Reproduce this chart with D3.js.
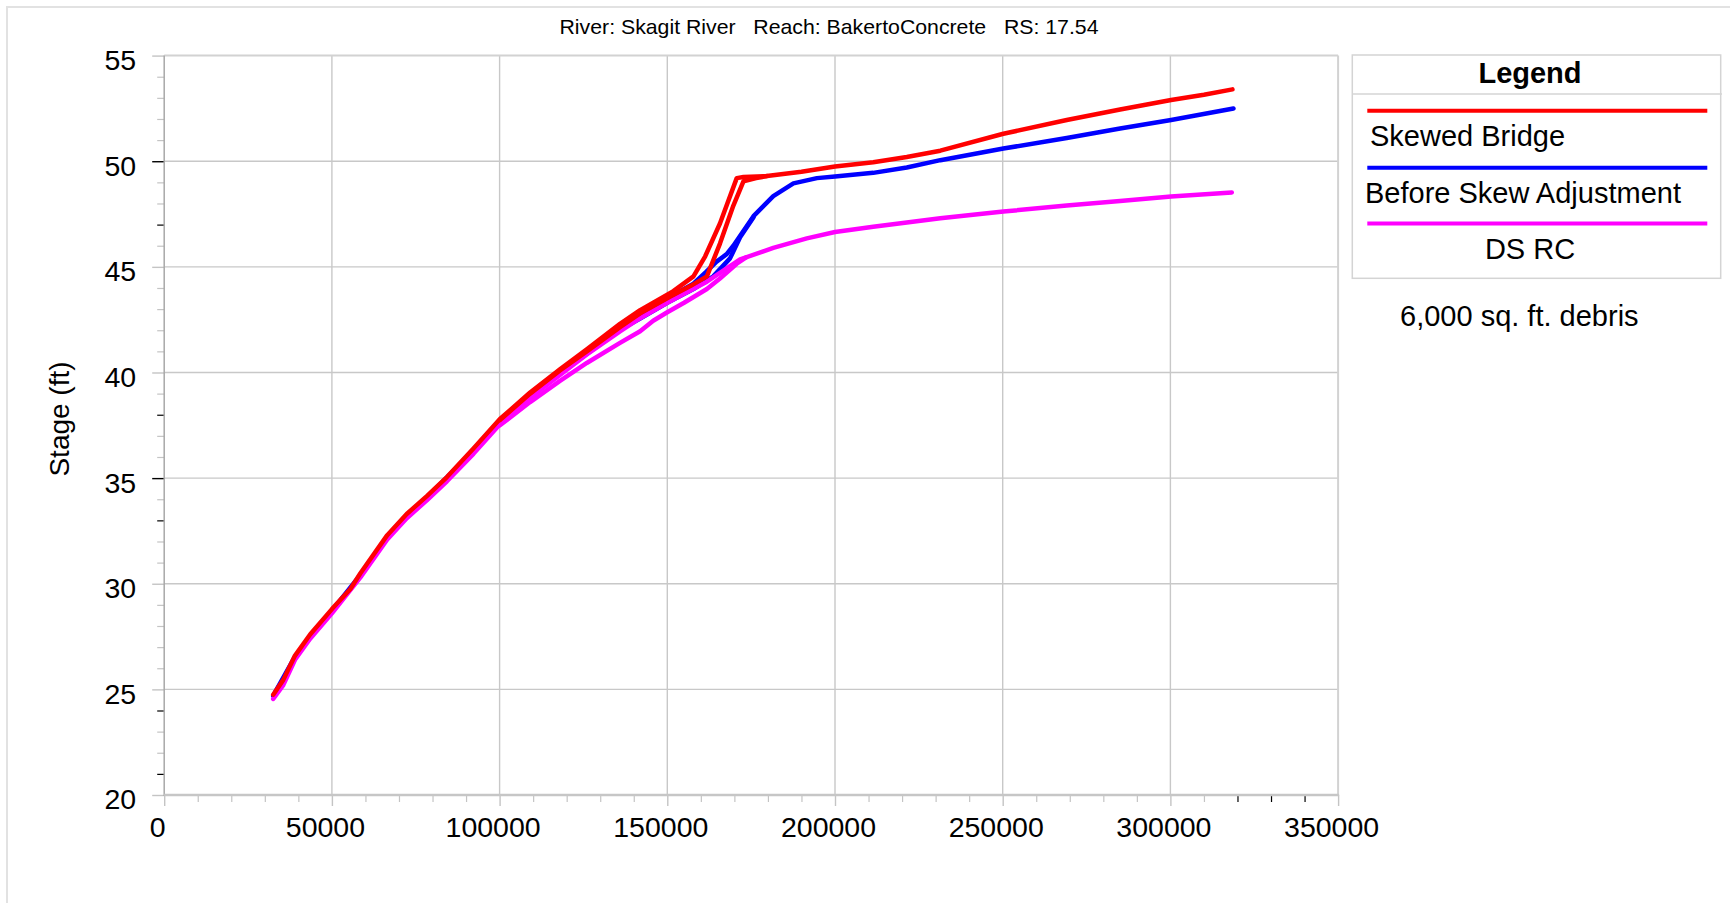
<!DOCTYPE html>
<html><head><meta charset="utf-8">
<script src="https://cdn.jsdelivr.net/npm/d3@7"></script>
<style>
body{margin:0;background:#fff;}
svg{display:block;font-family:Arial,"Liberation Sans",Helvetica,sans-serif;}
</style></head><body>
<svg id="chart" width="1730" height="903"></svg>
<script>
// ---------- DATA ----------
const titleText = "River: Skagit River   Reach: BakertoConcrete   RS: 17.54";
const yAxisLabel = "Stage (ft)";
const xTicks = [0, 50000, 100000, 150000, 200000, 250000, 300000, 350000];
const yTicks = [20, 25, 30, 35, 40, 45, 50, 55];
const seriesNames = ["Skewed Bridge", "Before Skew Adjustment", "DS RC"];
const seriesColors = ["#ff0000", "#0000ff", "#ff00ff"];
const legendTitle = "Legend";
const noteText = "6,000 sq. ft. debris";

// Skewed Bridge (two limbs of the loop) [flow cfs, stage ft]
const skewedBridgeA = [[32500,24.75],[35500,25.45],[39000,26.6],[43500,27.6],[50000,28.8],[55500,29.75],[58500,30.5],[66500,32.3],[72300,33.3],[78300,34.15],[84300,35.05],[92200,36.4],[100100,37.8],[109100,39.05],[118000,40.15],[126000,41.1],[135900,42.3],[141900,42.95],[145800,43.3],[151800,43.85],[157800,44.55],[161300,45.5],[165700,47.05],[170700,49.2],[172700,49.25],[179700,49.3],[190000,49.5],[200000,49.75],[211400,49.95],[221400,50.2],[231400,50.5],[250200,51.3],[269100,51.95],[285000,52.45],[300200,52.9],[310000,53.15],[318500,53.4]];
const skewedBridgeB = [[100100,37.75],[109100,39.0],[118000,40.1],[126000,41.0],[135900,42.15],[141900,42.8],[150900,43.6],[157000,44.1],[161800,44.55],[165700,46.1],[169700,47.9],[172700,49.05],[176500,49.2],[179700,49.3]];
// Before Skew Adjustment
const beforeSkewA = [[32500,24.7],[39000,26.55],[50000,28.72],[58500,30.42],[66500,32.22],[78300,34.08],[92200,36.3],[100100,37.68],[109100,38.92],[118000,40.02],[126000,40.97],[135900,42.12],[141900,42.68],[150000,43.5],[157800,44.2],[161500,44.75],[164700,45.25],[167700,45.6],[169700,46.0],[172700,46.7],[175700,47.4],[181600,48.35],[187600,48.95],[194600,49.2],[200000,49.28],[211400,49.45],[221400,49.7],[231400,50.05],[250200,50.6],[269100,51.1],[285000,51.55],[300200,51.95],[318800,52.5]];
const beforeSkewB = [[100100,37.62],[109100,38.85],[118000,39.95],[126000,40.88],[135900,42.02],[141900,42.55],[150000,43.3],[157800,43.95],[163700,44.55],[168700,45.4],[171700,46.4],[175700,47.35]];
// DS RC
const dsRcA = [[32500,24.55],[35500,25.2],[39000,26.4],[43500,27.4],[50000,28.6],[58500,30.3],[66500,32.1],[72300,33.1],[78300,33.95],[84300,34.85],[92200,36.15],[100100,37.55],[109100,38.8],[118000,39.88],[126000,40.85],[135900,41.95],[141900,42.57],[150000,43.3],[161800,44.3],[171700,45.35],[181600,45.9],[191600,46.35],[200000,46.65],[211400,46.9],[231400,47.3],[250200,47.62],[269100,47.9],[285000,48.12],[300200,48.33],[318300,48.52]];
const dsRcB = [[100100,37.5],[109100,38.6],[118000,39.6],[126000,40.45],[135900,41.4],[141900,41.95],[145800,42.45],[150000,42.85],[155000,43.3],[161800,43.95],[165700,44.45],[170700,45.15],[173500,45.45]];

// ---------- CHART ----------
const W = 1730, H = 903;
const svg = d3.select("#chart");
const M = {left:164.2, right:1338.1, top:55.6, bottom:795};
const x = d3.scaleLinear().domain([0, 350000]).range([M.left, M.right]);
const y = d3.scaleLinear().domain([20, 55]).range([M.bottom, M.top]);

// outer frame
svg.append("rect").attr("x",7).attr("y",7).attr("width",W).attr("height",H)
  .attr("fill","none").attr("stroke","#e2e2e2").attr("stroke-width",2);

// title
const title = svg.append("text").attr("x",829).attr("y",34).attr("text-anchor","middle")
  .style("font-size","21px").style("white-space","pre").attr("fill","#000").text(titleText);
title.attr("textLength",539).attr("lengthAdjust","spacingAndGlyphs");

// grid
const grid = svg.append("g");
grid.selectAll(".vg").data(xTicks.filter(v=>v>0 && v<350000)).join("line")
  .attr("x1",d=>x(d)).attr("x2",d=>x(d)).attr("y1",M.top).attr("y2",M.bottom)
  .attr("stroke","#c8c8c8").attr("stroke-width",1.4);
grid.selectAll(".hg").data(yTicks.filter(v=>v>20 && v<55)).join("line")
  .attr("x1",M.left).attr("x2",M.right).attr("y1",d=>y(d)).attr("y2",d=>y(d))
  .attr("stroke","#c8c8c8").attr("stroke-width",1.4);

// frame
svg.append("line").attr("x1",M.left).attr("x2",M.right).attr("y1",M.top).attr("y2",M.top).attr("stroke","#d2d2d2").attr("stroke-width",2);
svg.append("line").attr("x1",M.right).attr("x2",M.right).attr("y1",M.top).attr("y2",M.bottom).attr("stroke","#d2d2d2").attr("stroke-width",2);

// minor ticks
const yMinor = d3.range(20, 55.01, 1).filter(v => v % 5 !== 0);
const xMinor = d3.range(0, 350001, 10000).filter(v => v % 50000 !== 0);
const yDark = [47, 38, 33, 24, 21];
const xDark = [320000, 330000, 340000];

const yMinorAxis = svg.append("g").attr("transform",`translate(${M.left},0)`)
  .call(d3.axisLeft(y).tickValues(yMinor).tickSize(7).tickFormat(""));
yMinorAxis.select(".domain").remove();
yMinorAxis.selectAll(".tick line").attr("stroke",d=>yDark.includes(d)?"#000":"#c4c4c4").attr("stroke-width",1.2);

const xMinorAxis = svg.append("g").attr("transform",`translate(0,${M.bottom})`)
  .call(d3.axisBottom(x).tickValues(xMinor).tickSize(7).tickFormat(""));
xMinorAxis.select(".domain").remove();
xMinorAxis.selectAll(".tick line").attr("stroke",d=>xDark.includes(d)?"#000":"#c4c4c4").attr("stroke-width",1.2);

// major axes with labels
const yAxis = svg.append("g").attr("transform",`translate(${M.left},0)`)
  .call(d3.axisLeft(y).tickValues(yTicks).tickSize(12).tickPadding(16).tickFormat(d3.format("d")));
yAxis.select(".domain").remove();
yAxis.selectAll(".tick line").attr("stroke",d=>(d===50||d===35)?"#000":"#c4c4c4").attr("stroke-width",1.4);
yAxis.selectAll(".tick text").attr("fill","#000").style("font-size","28.5px").style("font-family","Arial,'Liberation Sans',sans-serif").attr("dy","0.49em");

const xAxis = svg.append("g").attr("transform",`translate(0,${M.bottom})`)
  .call(d3.axisBottom(x).tickValues(xTicks).tickSize(11).tickPadding(10.5).tickFormat(d3.format("d")));
xAxis.select(".domain").remove();
xAxis.selectAll(".tick line").attr("stroke","#c4c4c4").attr("stroke-width",1.4);
xAxis.selectAll(".tick text").attr("fill","#000").style("font-size","28.5px").style("font-family","Arial,'Liberation Sans',sans-serif").attr("dx","-7");

// axis lines
svg.append("line").attr("x1",M.left).attr("x2",M.left).attr("y1",M.top).attr("y2",M.bottom+1).attr("stroke","#a8a8a8").attr("stroke-width",1.5);
svg.append("line").attr("x1",M.left).attr("x2",M.right+1).attr("y1",M.bottom).attr("y2",M.bottom).attr("stroke","#c6c6c6").attr("stroke-width",2.5);

// y label
svg.append("text").attr("transform","translate(69,419) rotate(-90)").attr("text-anchor","middle")
  .style("font-size","28px").attr("fill","#000").text(yAxisLabel);

// series (drawn blue, magenta, red so red stays on top as in the reference)
const line = d3.line().x(d=>x(d[0])).y(d=>y(d[1]));
const series = [
  {color:seriesColors[1], limbs:[beforeSkewA, beforeSkewB]},
  {color:seriesColors[2], limbs:[dsRcA, dsRcB]},
  {color:seriesColors[0], limbs:[skewedBridgeA, skewedBridgeB]}
];
const sg = svg.append("g");
series.forEach(s => {
  s.limbs.forEach(l => {
    sg.append("path").attr("d",line(l)).attr("fill","none").attr("stroke",s.color)
      .attr("stroke-width",4.5).attr("stroke-linejoin","round").attr("stroke-linecap","round");
  });
});

// legend
const lg = svg.append("g");
lg.append("rect").attr("x",1352.3).attr("y",55).attr("width",368.4).attr("height",223.3)
  .attr("fill","#fff").attr("stroke","#d4d4d4").attr("stroke-width",1.5);
lg.append("line").attr("x1",1352.3).attr("x2",1722).attr("y1",94).attr("y2",94).attr("stroke","#d4d4d4").attr("stroke-width",1.5);
lg.append("text").attr("x",1530).attr("y",83).attr("text-anchor","middle").style("font-size","29px").style("font-weight","bold").text(legendTitle);
const legLineY = [110.7, 167.7, 223.5];
const legText = [{x:1370,y:146,anchor:"start"},{x:1365,y:202.7,anchor:"start"},{x:1530,y:258.5,anchor:"middle"}];
seriesNames.forEach((n,i)=>{
  lg.append("line").attr("x1",1367.3).attr("x2",1707.3).attr("y1",legLineY[i]).attr("y2",legLineY[i])
    .attr("stroke",seriesColors[i]).attr("stroke-width",4);
  lg.append("text").attr("x",legText[i].x).attr("y",legText[i].y).attr("text-anchor",legText[i].anchor)
    .style("font-size","29px").text(n);
});
svg.append("text").attr("x",1400).attr("y",325.5).style("font-size","29px").text(noteText);
</script>
</body></html>
